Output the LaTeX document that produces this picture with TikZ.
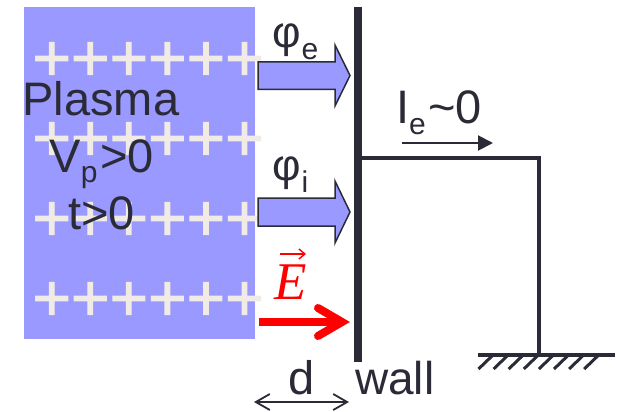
\documentclass[tikz,border=0pt]{standalone}
\usepackage{fontspec}
\setmainfont{Liberation Sans}
\newfontfamily\plusfont[FakeBold=1.6]{Liberation Sans}
\newfontfamily\efont{Liberation Serif Italic}
\usetikzlibrary{arrows.meta}
\definecolor{ink}{HTML}{2B2B38}
\definecolor{plasma}{HTML}{9999FF}
\definecolor{plus}{HTML}{F0EBE4}
\newcommand{\sbs}[1]{\raisebox{-10.5pt}{\fontsize{30}{30}\selectfont #1}\kern2.5pt}
\newcommand{\phisub}[1]{{\fontsize{44}{44}\selectfont φ}\kern1pt\raisebox{-12pt}{\fontsize{30}{30}\selectfont #1}}
\tikzset{
  txt/.style={anchor=base west,inner sep=0pt,outer sep=0pt,text=ink,font=\fontsize{47}{47}\selectfont},
  plusrow/.style={anchor=base west,inner sep=0pt,outer sep=0pt,text=plus,font=\plusfont\fontsize{66}{66}\selectfont},
  block/.style={draw=ink,line width=1.5pt,fill=plasma,miter limit=10},
  wire/.style={draw=ink,line width=4pt},
  hatch/.style={draw=ink,line width=3pt},
}
\begin{document}
\begin{tikzpicture}[x=1pt,y=-1pt]
\useasboundingbox (0,0) rectangle (619,412);
\fill[plasma] (24,7) rectangle (255,339);
\foreach \n/\y in {a/80.5,b/160.5,c/240.5,d/320.5}
  \node[plusrow] (plus\n) at (32.5,\y) {++++++};
% block arrows
\draw[block] (258,62) -- (335,62) -- (335,45) -- (350,75.5) -- (335,106) -- (335,89.5) -- (258,89.5) -- cycle;
\draw[block] (258,198) -- (335,198) -- (335,181) -- (350,212) -- (335,243) -- (335,226) -- (258,226) -- cycle;
% red arrow
\coordinate (redstart) at (259,322);
\coordinate (redend) at (342,322);
\draw[red,line width=8pt] (redstart) -- (redend);
\draw[red,line width=8pt,line cap=round,miter limit=10] (318,308) -- (redend) -- (318,336);
% wall
\coordinate (walltop) at (357.5,7);
\coordinate (wallbot) at (357.5,362);
\draw[draw=ink,line width=8pt] (walltop) -- (wallbot);
% circuit
\coordinate (wirestart) at (358,158);
\coordinate (corner) at (539,158);
\coordinate (gnd) at (539,354.5);
\coordinate (gndl) at (478,354.5);
\coordinate (gndr) at (614.5,354.5);
\draw[wire,line join=miter] (wirestart) -- (corner) -- (gnd);
\draw[wire] (gndl) -- (gndr);
\foreach \i in {0,...,7}
  \draw[hatch] ({478.5+15.1*\i},369) -- ({492+15.1*\i},356);
% current arrow
\coordinate (ia) at (402,143);
\coordinate (ib) at (493,143);
\draw[draw=ink,line width=2pt,-{Triangle[length=15pt,width=15pt]}] (ia) -- (ib);
% d arrow
\coordinate (da) at (254,402);
\coordinate (db) at (349,402);
\draw[draw=ink,line width=1.8pt,{Straight Barb[length=14pt,width=16pt]}-{Straight Barb[length=14pt,width=16pt]}] (da) -- (db);
% text
\node[txt] (plasmalabel) at (22.5,115) {Plasma};
\node[txt] (vp) at (49.5,172) {V\sbs{p}>0};
\node[txt] (t) at (68,229) {t>0};
\node[txt] (phie) at (272,48) {\phisub{e}};
\node[txt] (phii) at (272,180) {\phisub{i}};
\node[txt] (ie) at (396,124) {I\sbs{e}\char`\~0};
\node[txt] (dl) at (288,394) {d};
\node[txt,font=\fontsize{46}{46}\selectfont] (wall) at (355,394) {wall};
\node[txt,text=red,font=\efont\fontsize{53}{53}\selectfont] (e) at (274,299) {E};
\coordinate (evs) at (280,254);
\coordinate (eve) at (306,254);
\draw[red,line width=1.4pt,-{Straight Barb[length=6pt,width=10pt]}] (evs) -- (eve);
\end{tikzpicture}
\end{document}
